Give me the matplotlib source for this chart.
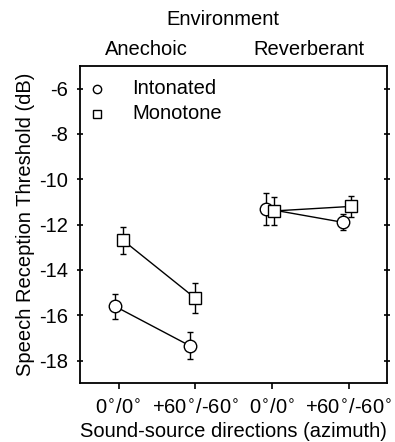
import matplotlib

matplotlib.use("Agg")
import matplotlib.pyplot as plt
import numpy as np

plt.rcParams.update({
  "font.family": ["Liberation Sans", "DejaVu Sans"],
  "font.size": 14,
  "axes.linewidth": 1.3,
})

# data
tick_labels = ["0$^{\\circ}$/0$^{\\circ}$", "+60$^{\\circ}$/-60$^{\\circ}$",
               "0$^{\\circ}$/0$^{\\circ}$", "+60$^{\\circ}$/-60$^{\\circ}$"]
environments = ["Anechoic", "Reverberant"]
env_x = [0.37, 0.782]
intonated_x = [0.95, 1.93, 2.92, 3.92]
intonated_y = [-15.6, -17.35, -11.3, -11.9]
intonated_err = [0.55, 0.6, 0.7, 0.35]
monotone_x = [1.06, 2.0, 3.03, 4.03]
monotone_y = [-12.7, -15.25, -11.4, -11.2]
monotone_err = [0.6, 0.65, 0.6, 0.45]

FS = 14.5

fig = plt.figure(figsize=(3.95, 4.42), dpi=100)
ax = fig.add_axes([0.203, 0.133, 0.777, 0.718])

style = dict(color="black", linewidth=1.0, capsize=2.5, elinewidth=1.0,
             markerfacecolor="white", markeredgecolor="black",
             markeredgewidth=1.0, markersize=9)
for seg in (slice(0, 2), slice(2, 4)):
  ax.errorbar(intonated_x[seg], intonated_y[seg], yerr=intonated_err[seg],
              marker="o", zorder=3, **style)
  ax.errorbar(monotone_x[seg], monotone_y[seg], yerr=monotone_err[seg],
              marker="s", zorder=3, **{**style, "markersize": 8})

# legend drawn as text + markers in axes coords
ax.plot([0.055], [0.928], "o", transform=ax.transAxes, ms=6,
        mfc="white", mec="black", mew=1.0, clip_on=False)
ax.plot([0.055], [0.848], "s", transform=ax.transAxes, ms=6,
        mfc="white", mec="black", mew=1.0, clip_on=False)
ax.text(0.17, 0.93, "Intonated", transform=ax.transAxes, va="center", fontsize=FS)
ax.text(0.17, 0.85, "Monotone", transform=ax.transAxes, va="center", fontsize=FS)

ax.set_xlim(0.5, 4.5)
ax.set_ylim(-19, -5)
ax.set_xticks(np.arange(1, 5))
ax.set_xticklabels(tick_labels, fontsize=FS)
ax.set_yticks(np.arange(-18, -5, 2))
ax.set_yticklabels([str(v) for v in range(-18, -5, 2)], fontsize=FS)
ax.tick_params(axis="both", direction="out", length=4, width=1.2)
ax.tick_params(axis="x", pad=7)
ax.tick_params(axis="y", right=True, direction="inout", length=5, pad=6)

ax.set_ylabel("Speech Reception Threshold (dB)", fontsize=FS, labelpad=3)
ax.set_xlabel("Sound-source directions (azimuth)", fontsize=FS, labelpad=3)

fig.text(0.565, 0.955, "Environment", ha="center", va="center", fontsize=FS)
for xc, env in zip(env_x, environments):
  fig.text(xc, 0.889, env, ha="center", va="center", fontsize=FS)

fig.savefig("out.png", dpi=100)
